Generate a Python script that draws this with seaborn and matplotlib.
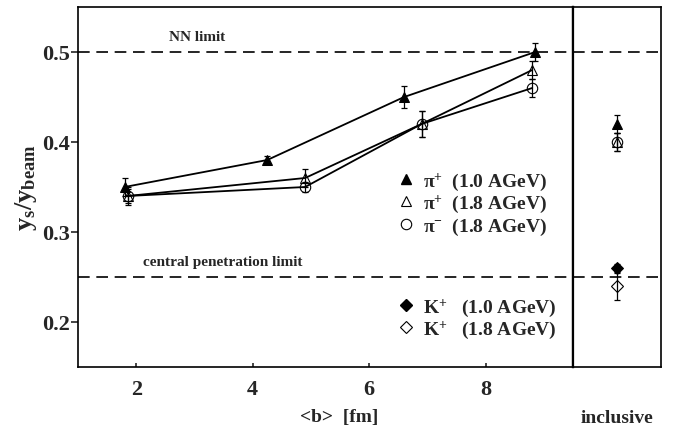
import matplotlib
matplotlib.use("Agg")
import matplotlib.pyplot as plt
from matplotlib.lines import Line2D
import seaborn as sns
import pandas as pd

sns.set_theme(style="ticks")
plt.rcParams["font.family"] = ["Liberation Serif", "DejaVu Serif"]
plt.rcParams["font.weight"] = "bold"
plt.rcParams["axes.labelweight"] = "bold"
plt.rcParams["mathtext.fontset"] = "custom"
plt.rcParams["mathtext.rm"] = "Liberation Serif:bold"
plt.rcParams["mathtext.it"] = "Liberation Serif:bold"
plt.rcParams["mathtext.bf"] = "Liberation Serif:bold"
plt.rcParams["mathtext.default"] = "rm"

# impact-parameter dependence, y_s / y_beam
b_pip10 = [1.8, 4.25, 6.6, 8.85]
ys_pip10 = [0.35, 0.38, 0.45, 0.50]
err_pip10 = [0.01, 0.004, 0.012, 0.01]

b_pip18 = [1.85, 4.9, 6.9, 8.8]
ys_pip18 = [0.34, 0.36, 0.42, 0.48]
err_pip18 = [0.008, 0.01, 0.014, 0.01]

b_pim18 = [1.85, 4.9, 6.9, 8.8]
ys_pim18 = [0.34, 0.35, 0.42, 0.46]
err_pim18 = [0.01, 0.006, 0.014, 0.01]

# inclusive values
incl_labels = ["pip10", "pip18", "pim18", "kp10", "kp18"]
incl_ys = [0.42, 0.40, 0.40, 0.26, 0.24]
incl_err = [0.01, 0.01, 0.01, 0.005, 0.016]

nn_limit = 0.5
cp_limit = 0.25
x_ticks = [2, 4, 6, 8]
y_ticks = [0.2, 0.3, 0.4, 0.5]

W, H = 674, 427
fig = plt.figure(figsize=(W / 100, H / 100), dpi=100)
ax = fig.add_axes([78 / W, 59 / H, 495 / W, 360 / H])
axr = fig.add_axes([573 / W, 59 / H, 88 / W, 360 / H], sharey=ax)

styles = {
    "pip10": dict(marker="^", mfc="black", mec="black", ms=7.5),
    "pip18": dict(marker="^", mfc="none", mec="black", ms=7.5, mew=0.8),
    "pim18": dict(marker="o", mfc="none", mec="black", ms=7.5, mew=0.8),
    "kp10": dict(marker="D", mfc="black", mec="black", ms=6),
    "kp18": dict(marker="D", mfc="none", mec="black", ms=6, mew=0.8),
}

series = [
    ("pip10", b_pip10, ys_pip10, err_pip10),
    ("pip18", b_pip18, ys_pip18, err_pip18),
    ("pim18", b_pim18, ys_pim18, err_pim18),
]
for key, bx, yy, ee in series:
    df = pd.DataFrame({"b": bx, "ys": yy})
    ax.errorbar(bx, yy, yerr=ee, fmt="none", ecolor="black", elinewidth=0.9,
                capsize=2, capthick=0.9, zorder=2)
    sns.lineplot(data=df, x="b", y="ys", ax=ax, color="black", lw=1.3,
                 sort=False, estimator=None, zorder=3, **styles[key])

for ref in (nn_limit, cp_limit):
    for a in (ax, axr):
        a.axhline(ref, color="black", lw=1.2, ls=(0, (7, 4)), zorder=1)

ax.text(3.05, nn_limit + 0.017, "NN limit", ha="center", va="center", fontsize=11)
ax.text(3.48, cp_limit + 0.017, "central penetration limit", ha="center",
        va="center", fontsize=11)

ax.set_xlim(1.0, 9.5)
ax.set_ylim(0.15, 0.55)
ax.set_xticks(x_ticks)
ax.set_xticklabels([str(v) for v in x_ticks])
ax.set_yticks(y_ticks)
ax.set_yticklabels([f"{v:.1f}" for v in y_ticks])
ax.tick_params(axis="x", direction="in", length=3, width=1.2, labelsize=16, pad=9)
ax.tick_params(axis="y", direction="out", length=5, width=1.2, labelsize=16, pad=1)
ax.set_xlabel("<b>  [fm]", fontsize=14, fontweight="bold", x=0.527, labelpad=6)
ax.set_ylabel(r"$y_{s}/y_{beam}$", fontsize=19, labelpad=2)

# inclusive panel
incl_df = pd.DataFrame({"pos": [0.5] * len(incl_ys), "ys": incl_ys})
for i, key in enumerate(incl_labels):
    axr.errorbar([0.5], [incl_ys[i]], yerr=[incl_err[i]], fmt="none",
                 ecolor="black", elinewidth=0.9, capsize=2, capthick=0.9, zorder=2)
    sns.lineplot(data=incl_df.iloc[[i]], x="pos", y="ys", ax=axr, color="black",
                 lw=0, estimator=None, zorder=3, **styles[key])
axr.set_xlim(0, 1)
axr.set_xticks([])
axr.tick_params(axis="y", left=False, labelleft=False)
axr.set_xlabel("inclusive", fontsize=14, fontweight="bold", labelpad=30)
axr.set_ylabel("")

for a in (ax, axr):
    for s in a.spines.values():
        s.set_visible(True)
        s.set_linewidth(1.2)
        s.set_color("black")
ax.spines["right"].set_linewidth(1.6)
axr.spines["left"].set_linewidth(1.6)

def handle(key):
    st = dict(styles[key])
    return Line2D([], [], color="black", lw=0, **st)

pion_labels = [r"$\pi^{+}$  (1.0 AGeV)", r"$\pi^{+}$  (1.8 AGeV)",
               r"$\pi^{-}$  (1.8 AGeV)"]
kaon_labels = [r"$K^{+}$   (1.0 AGeV)", r"$K^{+}$   (1.8 AGeV)"]

leg1 = ax.legend([handle(k) for k in ["pip10", "pip18", "pim18"]], pion_labels,
                 loc="upper left", bbox_to_anchor=((398 - 78) / 495, (368 - 171) / 360),
                 frameon=False, fontsize=14, handlelength=0.8, handletextpad=0.5,
                 labelspacing=0.05, borderpad=0, borderaxespad=0)
ax.add_artist(leg1)
ax.legend([handle(k) for k in ["kp10", "kp18"]], kaon_labels,
          loc="upper left", bbox_to_anchor=((398 - 78) / 495, (368 - 297) / 360),
          frameon=False, fontsize=14, handlelength=0.8, handletextpad=0.5,
          labelspacing=0.05, borderpad=0, borderaxespad=0)

fig.savefig("out.png", dpi=100)
